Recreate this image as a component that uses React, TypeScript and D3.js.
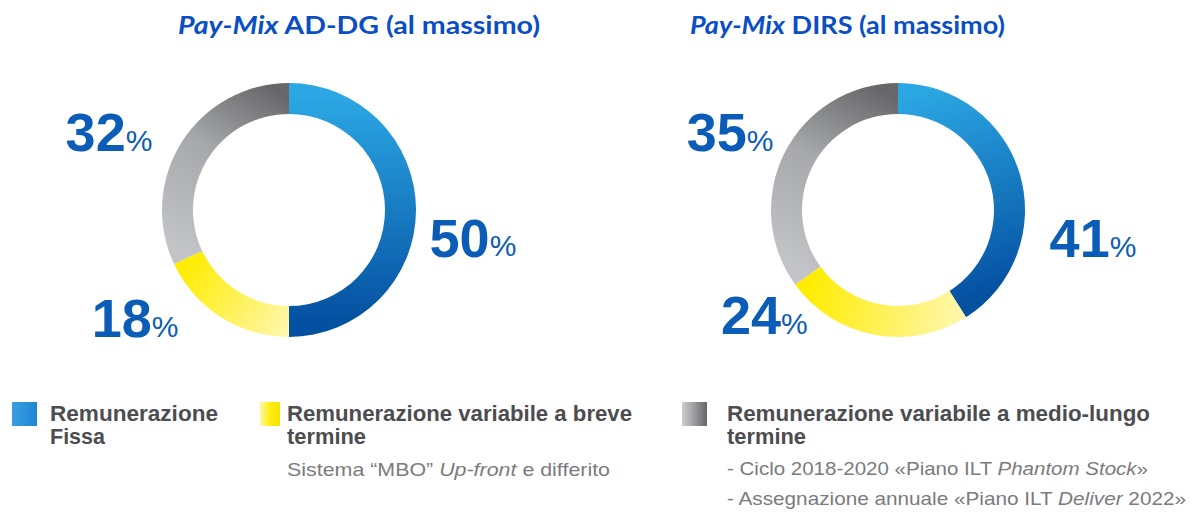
import * as d3 from 'd3'
import React from 'react'

// categories and values per chart
const categories = ['Remunerazione Fissa', 'Remunerazione variabile a breve termine', 'Remunerazione variabile a medio-lungo termine']
const adDgValues = [50, 18, 32]
const dirsValues = [41, 24, 35]
const chartTitles = [
  { italic: 'Pay-Mix', rest: ' AD-DG (al massimo)' },
  { italic: 'Pay-Mix', rest: ' DIRS (al massimo)' },
]

// layout (not data)
const W = 1194
const H = 512
const centers = [[289, 210], [898, 210]]
const titleX = [[178, 540], [690, 1005]]
const labelPolar = [
  [[98.5, 186], [235, 188], [293.3, 196]],
  [[98.2, 197], [231.8, 170], [294.8, 185]],
]
const stops = [
  ['#2ba7e3', '#0450a1'],
  ['#fff6a6', '#ffec00'],
  ['#c3c4c7', '#67676a'],
]
const numColor = '#0b5cb6'
const titleColor = '#0a4ec4'
const textGray = '#4d4d4f'
const subGray = '#7b7b7d'

const outerR = 127
const innerR = 96

function Donut(props: { idx: number; values: number[] }) {
  const { idx, values } = props
  const [cx, cy] = centers[idx]
  const pie = d3.pie<number>().sort(null).value((d) => d)
  const arc = d3.arc<d3.PieArcDatum<number>>().innerRadius(innerR).outerRadius(outerR)
  const arcs = pie(values)
  const mid = (innerR + outerR) / 2
  const pt = (a: number, r: number) => [Math.sin(a) * r, -Math.cos(a) * r]
  const t = chartTitles[idx]
  const [tx0, tx1] = titleX[idx]
  return (
    <g>
      <text x={tx0} y={34} fill={titleColor} fontFamily="Lato, 'Open Sans', sans-serif" fontWeight="bold" fontSize={24}
        textLength={tx1 - tx0} lengthAdjust="spacingAndGlyphs">
        <tspan fontStyle="italic">{t.italic}</tspan>
        <tspan>{t.rest}</tspan>
      </text>
      <g transform={`translate(${cx},${cy})`}>
        <defs>
          {arcs.map((a, i) => {
            const [x1, y1] = pt(a.startAngle, mid)
            const [x2, y2] = pt(a.endAngle, mid)
            return (
              <linearGradient key={i} id={`g${idx}-${i}`} gradientUnits="userSpaceOnUse" x1={x1} y1={y1} x2={x2} y2={y2}>
                <stop offset="0" stopColor={stops[i][0]} />
                <stop offset={i === 2 ? '0.55' : '0.5'} stopColor={d3.interpolateRgb(stops[i][0], stops[i][1])(i === 2 ? 0.3 : 0.5)} />
                <stop offset="1" stopColor={stops[i][1]} />
              </linearGradient>
            )
          })}
        </defs>
        {arcs.map((a, i) => (
          <path key={i} d={arc(a) || ''} fill={`url(#g${idx}-${i})`} />
        ))}
        {arcs.map((a, i) => {
          const [deg, r] = labelPolar[idx][i]
          const [lx, ly] = pt((deg * Math.PI) / 180, r)
          return (
            <text key={'l' + i} x={lx} y={ly + 19} textAnchor="middle" fill={numColor}
              fontFamily="'Liberation Sans', Arial, sans-serif" fontWeight="bold">
              <tspan fontSize={54}>{a.data}</tspan>
              <tspan fontSize={30} fontWeight="normal">%</tspan>
            </text>
          )
        })}
      </g>
    </g>
  )
}

const legendFont = "'Liberation Sans', Arial, sans-serif"

export default function App() {
  return (
    <svg width={W} height={H} style={{ position: 'absolute', left: 0, top: 0, background: '#fff' }}>
      <defs>
        <linearGradient id="lg0" x1="0" x2="1" y1="0" y2="0">
          <stop offset="0" stopColor="#3a9fe0" />
          <stop offset="1" stopColor="#1e86d4" />
        </linearGradient>
        <linearGradient id="lg1" x1="0" x2="1" y1="0" y2="0">
          <stop offset="0" stopColor="#fff7a8" />
          <stop offset="0.5" stopColor="#ffee10" />
          <stop offset="1" stopColor="#f5e300" />
        </linearGradient>
        <linearGradient id="lg2" x1="0" x2="1" y1="0" y2="0">
          <stop offset="0" stopColor="#cfcfd1" />
          <stop offset="1" stopColor="#66666a" />
        </linearGradient>
      </defs>
      <Donut idx={0} values={adDgValues} />
      <Donut idx={1} values={dirsValues} />

      {/* legend */}
      <rect x={12} y={402} width={25} height={24} fill="url(#lg0)" />
      <text fontFamily={legendFont} fontWeight="bold" fontSize={22} fill={textGray}>
        <tspan x={50} y={421} textLength={168} lengthAdjust="spacingAndGlyphs">Remunerazione</tspan>
        <tspan x={50} y={444} textLength={55} lengthAdjust="spacingAndGlyphs">Fissa</tspan>
      </text>

      <rect x={260} y={402} width={20} height={24} fill="url(#lg1)" />
      <text fontFamily={legendFont} fontWeight="bold" fontSize={22} fill={textGray}>
        <tspan x={287} y={421} textLength={345} lengthAdjust="spacingAndGlyphs">Remunerazione variabile a breve</tspan>
        <tspan x={287} y={444} textLength={79} lengthAdjust="spacingAndGlyphs">termine</tspan>
      </text>
      <text x={287} y={476} fontFamily={legendFont} fontSize={19} fill={subGray} textLength={323} lengthAdjust="spacingAndGlyphs">
        Sistema “MBO” <tspan fontStyle="italic">Up-front</tspan> e differito
      </text>

      <rect x={682} y={402} width={25} height={24} fill="url(#lg2)" />
      <text fontFamily={legendFont} fontWeight="bold" fontSize={22} fill={textGray}>
        <tspan x={727} y={421} textLength={423} lengthAdjust="spacingAndGlyphs">Remunerazione variabile a medio-lungo</tspan>
        <tspan x={727} y={444} textLength={79} lengthAdjust="spacingAndGlyphs">termine</tspan>
      </text>
      <text x={727} y={475} fontFamily={legendFont} fontSize={19} fill={subGray} textLength={421} lengthAdjust="spacingAndGlyphs">
        - Ciclo 2018-2020 «Piano ILT <tspan fontStyle="italic">Phantom Stock</tspan>»
      </text>
      <text x={727} y={505} fontFamily={legendFont} fontSize={19} fill={subGray} textLength={459} lengthAdjust="spacingAndGlyphs">
        - Assegnazione annuale «Piano ILT <tspan fontStyle="italic">Deliver</tspan> 2022»
      </text>
      <title>{categories.join(' / ')}</title>
    </svg>
  )
}
